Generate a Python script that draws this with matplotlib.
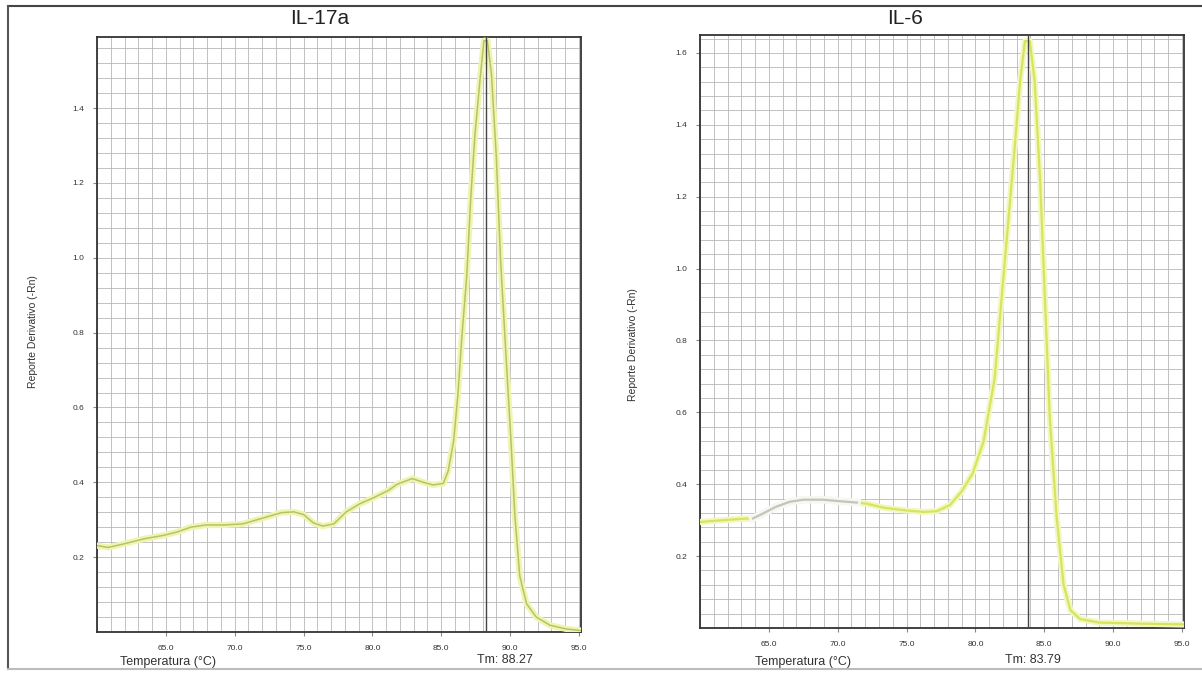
import numpy as np
import matplotlib.pyplot as plt
from matplotlib.ticker import MultipleLocator, FormatStrFormatter
from matplotlib.lines import Line2D

plt.rcParams['font.family'] = ['Liberation Sans', 'DejaVu Sans']

# melt curve IL-17a (temperature in C, derivative reporter)
il17_temp = [60.0, 60.8, 61.9, 63.4, 64.8, 65.8, 66.8, 67.9, 69.2, 70.6, 72.1, 73.4,
             74.3, 75.0, 75.7, 76.4, 77.2, 78.1, 79.1, 80.1, 81.2, 81.8, 82.9, 83.7,
             84.4, 85.15, 85.5, 85.9, 86.2, 86.5, 86.85, 87.15, 87.45, 87.8, 88.1, 88.35,
             88.65, 89.0, 89.3, 89.7, 90.05, 90.35, 90.7, 91.2, 91.9, 92.9, 94.1, 95.1]
il17_deriv = [0.231, 0.226, 0.235, 0.249, 0.258, 0.267, 0.280, 0.286, 0.286, 0.289, 0.305, 0.319,
              0.321, 0.314, 0.292, 0.283, 0.289, 0.321, 0.343, 0.359, 0.379, 0.395, 0.410, 0.400,
              0.393, 0.397, 0.43, 0.51, 0.63, 0.79, 0.95, 1.165, 1.33, 1.47, 1.58, 1.58,
              1.49, 1.27, 1.00, 0.74, 0.52, 0.31, 0.15, 0.075, 0.04, 0.018, 0.008, 0.004]
il17_tm = 88.27

# melt curve IL-6
il6_temp = [60.0, 61.7, 63.1, 63.85, 64.6, 65.5, 66.5, 67.5, 68.9, 70.1, 71.4, 72.1,
            73.3, 74.75, 76.2, 77.2, 78.15, 79.0, 79.8, 80.6, 81.4, 81.9, 82.4, 82.9,
            83.25, 83.6, 83.95, 84.3, 84.7, 85.05, 85.4, 85.9, 86.4, 86.9, 87.6, 89.0, 92.2, 95.1]
il6_deriv = [0.295, 0.30, 0.304, 0.305, 0.319, 0.337, 0.351, 0.357, 0.357, 0.353, 0.349, 0.346,
             0.335, 0.328, 0.323, 0.325, 0.342, 0.38, 0.43, 0.52, 0.695, 0.916, 1.137, 1.358,
             1.523, 1.633, 1.633, 1.523, 1.247, 0.916, 0.585, 0.309, 0.121, 0.05, 0.025, 0.015, 0.012, 0.01]
il6_tm = 83.79
il6_gray = (63.85, 71.4)   # part of the IL-6 trace drawn in grey

x_ticks = [65, 70, 75, 80, 85, 90, 95]

W, H = 1202, 673
fig = plt.figure(figsize=(W / 100, H / 100), dpi=100)


def px_axes(x0, y0, x1, y1):
    return fig.add_axes([x0 / W, 1 - y1 / H, (x1 - x0) / W, (y1 - y0) / H])


def setup(ax, ymax, yticks):
    ax.set_xlim(60.0, 95.15)
    ax.set_ylim(0, ymax)
    ax.set_xticks(x_ticks)
    ax.xaxis.set_major_formatter(FormatStrFormatter('%.1f'))
    ax.set_yticks(yticks)
    ax.yaxis.set_major_formatter(FormatStrFormatter('%.1f'))
    ax.xaxis.set_minor_locator(MultipleLocator(1))
    ax.yaxis.set_minor_locator(MultipleLocator(0.04))
    ax.grid(which='both', color='#b8b8b8', lw=0.6)
    ax.set_axisbelow(True)
    ax.tick_params(which='major', labelsize=6, length=3, color='#888888',
                   labelcolor='#333333', pad=6)
    ax.tick_params(which='minor', length=0)
    for s in ax.spines.values():
        s.set_color('#333333')
        s.set_linewidth(1.3)


# ---- IL-17a
ax1 = px_axes(97, 37, 581, 632)
setup(ax1, 1.59, [0.2, 0.4, 0.6, 0.8, 1.0, 1.2, 1.4])
ax1.plot(il17_temp, il17_deriv, color='#eff5b0', lw=4.5, zorder=3)
ax1.plot(il17_temp, il17_deriv, color='#b6c26a', lw=1.1, zorder=4)
ax1.axvline(il17_tm, color='#444444', lw=1.0, zorder=5)

# ---- IL-6
ax2 = px_axes(700, 35, 1184, 628)
setup(ax2, 1.65, [0.2, 0.4, 0.6, 0.8, 1.0, 1.2, 1.4, 1.6])
t6 = np.array(il6_temp)
d6 = np.array(il6_deriv)
ax2.plot(t6, d6, color='#f2f7c2', lw=4.5, zorder=3)
ax2.plot(t6, d6, color='#d6e45e', lw=1.6, zorder=4)
g = (t6 >= il6_gray[0]) & (t6 <= il6_gray[1])
ax2.plot(t6[g], d6[g], color='#f6f6f2', lw=5.5, zorder=4.5)
ax2.plot(t6[g], d6[g], color='#c4c4ba', lw=1.6, zorder=5)
ax2.axvline(il6_tm, color='#444444', lw=1.0, zorder=6)


def ftext(x, y, s, **kw):
    fig.text(x / W, 1 - y / H, s, **kw)


# titles and labels
ftext(320, 18, 'IL-17a', fontsize=15, ha='center', va='center', color='#222222')
ftext(905, 18, 'IL-6', fontsize=15, ha='center', va='center', color='#222222')
ftext(33, 332, 'Reporte Derivativo (-Rn)', fontsize=7.5, rotation=90,
      ha='center', va='center', color='#333333')
ftext(633, 345, 'Reporte Derivativo (-Rn)', fontsize=7.5, rotation=90,
      ha='center', va='center', color='#333333')
ftext(168, 662, 'Temperatura (°C)', fontsize=9, ha='center', va='center', color='#333333')
ftext(803, 662, 'Temperatura (°C)', fontsize=9, ha='center', va='center', color='#333333')
ftext(505, 660, 'Tm: %.2f' % il17_tm, fontsize=9, ha='center', va='center', color='#333333')
ftext(1033, 660, 'Tm: %.2f' % il6_tm, fontsize=9, ha='center', va='center', color='#333333')

# scanned page frame
fig.add_artist(Line2D([8 / W, 1], [1 - 6 / H, 1 - 6 / H], color='#444444', lw=1.5))
fig.add_artist(Line2D([8 / W, 8 / W], [1 - 6 / H, 1 - 669 / H], color='#555555', lw=1.5))
fig.add_artist(Line2D([8 / W, 1], [1 - 669 / H, 1 - 669 / H], color='#bbbbbb', lw=1.5))

fig.savefig('out.png', dpi=100)
